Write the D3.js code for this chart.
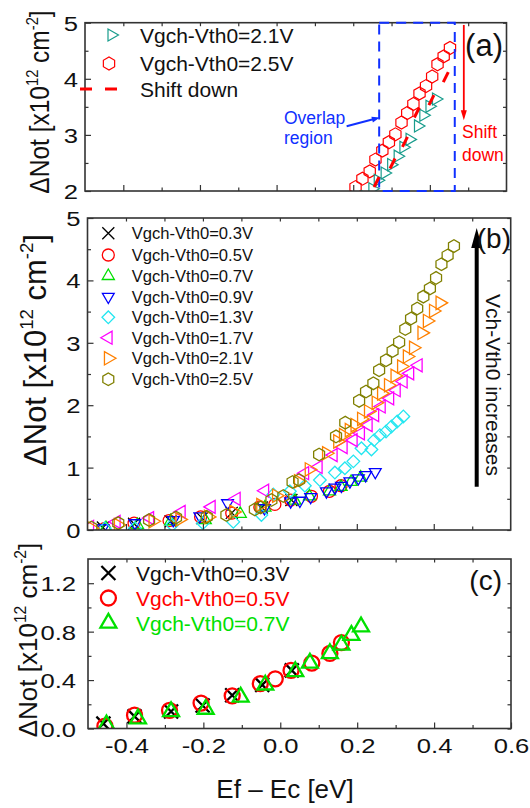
<!DOCTYPE html>
<html><head><meta charset="utf-8">
<script src="https://cdn.jsdelivr.net/npm/d3@7"></script>
<style>
body{margin:0;background:#fff;}
svg text{font-family:"Liberation Sans",Arial,sans-serif;}
</style></head><body>
<svg id="chart" width="530" height="808"></svg>
<script>
// ---------------- DATA ----------------
const xDomain = [-0.5, 0.6];
const xMajor = [-0.4, -0.2, 0.0, 0.2, 0.4];
const xMinor = [-0.3, -0.1, 0.1, 0.3, 0.5];
const xTickLabelsC = ["-0.4", "-0.2", "0.0", "0.2", "0.4", "0.6"];
const xTickValuesC = [-0.4, -0.2, 0.0, 0.2, 0.4, 0.6];

const yMajorA = [2, 3, 4, 5], yMinorA = [2.5, 3.5, 4.5], yLabelsA = ["2", "3", "4", "5"];
const yMajorB = [0, 1, 2, 3, 4, 5], yMinorB = [0.5, 1.5, 2.5, 3.5, 4.5], yLabelsB = ["0", "1", "2", "3", "4", "5"];
const yMajorC = [0, 0.4, 0.8, 1.2], yMinorC = [0.2, 0.6, 1.0], yLabelsC = ["0.0", "0.4", "0.8", "1.2"];

const legendB = ["Vgch-Vth0=0.3V", "Vgch-Vth0=0.5V", "Vgch-Vth0=0.7V", "Vgch-Vth0=0.9V",
                 "Vgch-Vth0=1.3V", "Vgch-Vth0=1.7V", "Vgch-Vth0=2.1V", "Vgch-Vth0=2.5V"];
const legendA = ["Vgch-Vth0=2.1V", "Vgch-Vth0=2.5V", "Shift down"];
const legendC = ["Vgch-Vth0=0.3V", "Vgch-Vth0=0.5V", "Vgch-Vth0=0.7V"];

const x03 = [-0.46, -0.379, -0.284, -0.202, -0.125, -0.047, 0.03];
const y03 = [0.04, 0.10, 0.14, 0.19, 0.275, 0.36, 0.48];
const x05 = [-0.456, -0.379, -0.288, -0.206, -0.125, -0.052, -0.013, 0.028, 0.082, 0.129, 0.159];
const y05 = [0.02, 0.11, 0.15, 0.21, 0.27, 0.37, 0.41, 0.48, 0.54, 0.62, 0.71];
const x07 = [-0.452, -0.37, -0.284, -0.194, -0.103, -0.039, 0.039, 0.077, 0.129, 0.159, 0.185, 0.21];
const y07 = [0.03, 0.08, 0.14, 0.16, 0.26, 0.36, 0.47, 0.54, 0.62, 0.69, 0.77, 0.84];
const x09 = [-0.46, -0.377, -0.277, -0.208, -0.136, -0.04, 0.028, 0.052, 0.08, 0.121, 0.143, 0.16, 0.182, 0.204, 0.223, 0.248];
const y09 = [0.03, 0.11, 0.16, 0.22, 0.43, 0.35, 0.46, 0.47, 0.53, 0.62, 0.68, 0.71, 0.78, 0.83, 0.88, 0.93];
const x13 = [-0.455, -0.377, -0.28, -0.2, -0.121, -0.048, -0.017, 0.026, 0.065, 0.104, 0.143, 0.169, 0.191, 0.212, 0.238, 0.245, 0.26, 0.276, 0.29, 0.305, 0.321];
const y13 = [0.03, 0.03, 0.08, 0.11, 0.13, 0.24, 0.57, 0.62, 0.71, 0.80, 0.92, 0.99, 1.10, 1.31, 1.29, 1.44, 1.52, 1.58, 1.66, 1.74, 1.82];
const x17 = [-0.494, -0.425, -0.338, -0.256, -0.178, -0.113, -0.039, 0.065, 0.1, 0.139, 0.165, 0.191, 0.21, 0.23, 0.247, 0.264, 0.286, 0.303, 0.321, 0.338, 0.36];
const y17 = [0.05, 0.13, 0.19, 0.29, 0.37, 0.50, 0.63, 0.91, 1.01, 1.20, 1.33, 1.44, 1.55, 1.68, 1.84, 1.98, 2.11, 2.24, 2.38, 2.51, 2.64];
const x21 = [-0.49, -0.42, -0.33, -0.26, -0.186, -0.12, -0.05, -0.009, 0.048, 0.076, 0.121, 0.15, 0.165, 0.18, 0.195, 0.212, 0.23, 0.25, 0.264, 0.282, 0.299, 0.316, 0.331, 0.347, 0.369, 0.383, 0.399, 0.416];
const y21 = [0.03, 0.08, 0.14, 0.17, 0.21, 0.29, 0.40, 0.55, 0.78, 0.97, 1.23, 1.42, 1.52, 1.60, 1.68, 1.78, 1.90, 2.04, 2.19, 2.32, 2.47, 2.62, 2.78, 2.92, 3.16, 3.35, 3.51, 3.64];
const x25 = [-0.49, -0.42, -0.34, -0.27, -0.19, -0.139, -0.065, -0.05, -0.022, 0.009, 0.033, 0.05, 0.102, 0.146, 0.17, 0.206, 0.224, 0.243, 0.258, 0.276, 0.293, 0.31, 0.326, 0.341, 0.357, 0.373, 0.39, 0.406, 0.42, 0.436, 0.4525];
const y25 = [0.04, 0.11, 0.16, 0.20, 0.21, 0.24, 0.33, 0.36, 0.48, 0.545, 0.77, 0.80, 1.21, 1.50, 1.72, 2.07, 2.22, 2.35, 2.56, 2.72, 2.87, 3.01, 3.22, 3.39, 3.55, 3.74, 3.87, 4.04, 4.26, 4.40, 4.55];

// annotations in panel (a), data coordinates
const shiftMarksX = [0.4416, 0.404, 0.366, 0.335, 0.3026, 0.261];
const shiftMarksY = [4.03, 3.62, 3.40, 2.875, 2.49, 2.16];
const overlapBoxX = [0.2677, 0.465];
const overlapArrowX = [0.1827, 0.2695], overlapArrowY = [3.155, 3.31];
const shiftArrowX = 0.4886, shiftArrowY = [4.96, 3.26];

// ---------------- STYLE ----------------
const C = {black:"#000000", red:"#ff0000", green:"#00e000", blue:"#0000ff", cyan:"#22e6f0",
           magenta:"#ff00ff", orange:"#ff8000", olive:"#808000", teal:"#189c8c", frame:"#333"};
const svg = d3.select("#chart");
const sans = '"Liberation Sans",Arial,sans-serif';
const serif = '"Liberation Serif","Times New Roman",serif';

function poly(r, angles) {
  return "M" + angles.map(a => {
    const t = a * Math.PI / 180; return [r * Math.cos(t), r * Math.sin(t)].map(v => v.toFixed(2)).join(",");
  }).join("L") + "Z";
}
function markerPath(shape, r) {
  switch (shape) {
    case "x": return `M${-r},${-r}L${r},${r}M${-r},${r}L${r},${-r}`;
    case "circle": return d3.symbol(d3.symbolCircle, Math.PI * r * r)();
    case "up": return poly(r, [-90, 30, 150]);
    case "down": return poly(r, [90, 210, 330]);
    case "left": return poly(r, [180, 300, 60]);
    case "right": return poly(r, [0, 120, 240]);
    case "diamond": return poly(r, [0, 90, 180, 270]);
    case "hex": return poly(r, [30, 90, 150, 210, 270, 330]);
  }
}

let clipId = 0;
function panel(P, yDomain, cfg) {
  const g = svg.append("g");
  const x = d3.scaleLinear().domain(xDomain).range([P.l, P.r]);
  const y = d3.scaleLinear().domain(yDomain).range([P.b, P.t]);
  const id = "clip" + (clipId++);
  svg.append("clipPath").attr("id", id).append("rect")
    .attr("x", P.l).attr("y", P.t).attr("width", P.r - P.l).attr("height", P.b - P.t);
  const data = g.append("g").attr("clip-path", `url(#${id})`);
  // axes
  const ax = g.append("g");
  const fmtX = cfg.xLabels ? (d, i) => cfg.xLabels[i] : () => "";
  const bx = ax.append("g").attr("transform", `translate(0,${P.b})`)
    .call(d3.axisBottom(x).tickValues(cfg.xLabels ? xTickValuesC : xMajor).tickSize(-6).tickPadding(9).tickFormat(fmtX));
  ax.append("g").attr("transform", `translate(0,${P.b})`).call(d3.axisBottom(x).tickValues(xMinor).tickSize(-3.5).tickFormat(""));
  ax.append("g").attr("transform", `translate(0,${P.t})`).call(d3.axisTop(x).tickValues(xMajor.concat(xMinor)).tickSize(-3.5).tickFormat(""));
  const ly = ax.append("g").attr("transform", `translate(${P.l},0)`)
    .call(d3.axisLeft(y).tickValues(cfg.yMajor).tickSize(-6).tickPadding(cfg.yPad).tickFormat((d, i) => cfg.yLabels[i]));
  ax.append("g").attr("transform", `translate(${P.l},0)`).call(d3.axisLeft(y).tickValues(cfg.yMinor).tickSize(-3.5).tickFormat(""));
  ax.append("g").attr("transform", `translate(${P.r},0)`).call(d3.axisRight(y).tickValues(cfg.yMajor.concat(cfg.yMinor)).tickSize(-3.5).tickFormat(""));
  ax.selectAll(".domain").remove();
  ax.selectAll(".tick line").attr("stroke", C.frame).attr("stroke-width", 1.2);
  ax.selectAll("text").attr("font-family", sans).attr("font-size", 21).attr("fill", "#111");
  ly.selectAll("text").attr("x", -cfg.yPad / 1.22).attr("transform", "scale(1.22,1)").attr("dy", "0.36em");
  bx.selectAll("text").attr("transform", "scale(1.22,1)").attr("dy", "0.72em");
  g.append("rect").attr("x", P.l).attr("y", P.t).attr("width", P.r - P.l).attr("height", P.b - P.t)
    .attr("fill", "none").attr("stroke", C.frame).attr("stroke-width", 1.6);
  return {g, x, y, data};
}

function series(layer, x, y, xs, ys, shape, r, color, sw) {
  layer.selectAll(null).data(xs.map((v, i) => [v, ys[i]])).join("path")
    .attr("transform", d => `translate(${x(d[0])},${y(d[1])})`)
    .attr("d", markerPath(shape, r)).attr("fill", "none").attr("stroke", color).attr("stroke-width", sw);
}

function yTitle(x, y, size, sx) {
  const t = svg.append("text").attr("transform", `translate(${x},${y}) scale(${sx},1) rotate(-90)`)
    .attr("text-anchor", "middle").attr("font-size", size).attr("font-family", sans).attr("fill", "#111");
  t.append("tspan").text("ΔNot [x10");
  t.append("tspan").attr("dy", -0.42 * size).attr("font-size", size * 0.6).text("12");
  t.append("tspan").attr("dy", 0.42 * size).text(" cm");
  t.append("tspan").attr("dy", -0.42 * size).attr("font-size", size * 0.6).text("-2");
  t.append("tspan").attr("dy", 0.42 * size).text("]");
}

function arrowHead(g, tipX, tipY, dir, w, len, color) {
  const [ux, uy] = dir, px = -uy, py = ux;
  const bx = tipX - ux * len, by = tipY - uy * len;
  g.append("path").attr("d", `M${tipX},${tipY}L${bx + px * w / 2},${by + py * w / 2}L${bx - px * w / 2},${by - py * w / 2}Z`)
    .attr("fill", color);
}

// ---------------- PANEL (a) ----------------
const A = panel({l: 85, r: 506.5, t: 22.7, b: 191}, [2, 5],
  {yMajor: yMajorA, yMinor: yMinorA, yLabels: yLabelsA, yPad: 7});
series(A.data, A.x, A.y, x25, y25, "hex", 6.5, C.red, 1.2);
series(A.data, A.x, A.y, x21, y21, "right", 7, C.teal, 1.2);
A.g.append("rect").attr("x", A.x(overlapBoxX[0])).attr("y", A.y(5)).attr("width", A.x(overlapBoxX[1]) - A.x(overlapBoxX[0]))
  .attr("height", A.y(2) - A.y(5)).attr("fill", "none").attr("stroke", "#1030ff").attr("stroke-width", 2).attr("stroke-dasharray", "10,7");
shiftMarksX.forEach((v, i) => {
  const cx = A.x(v), cy = A.y(shiftMarksY[i]);
  A.g.append("line").attr("x1", cx + 2.5).attr("y1", cy - 5).attr("x2", cx - 2.5).attr("y2", cy + 5)
    .attr("stroke", C.red).attr("stroke-width", 3);
});
{
  const x1 = A.x(overlapArrowX[0]), y1 = A.y(overlapArrowY[0]), x2 = A.x(overlapArrowX[1]), y2 = A.y(overlapArrowY[1]);
  const L = Math.hypot(x2 - x1, y2 - y1), u = [(x2 - x1) / L, (y2 - y1) / L];
  A.g.append("line").attr("x1", x1).attr("y1", y1).attr("x2", x2 - u[0] * 6).attr("y2", y2 - u[1] * 6).attr("stroke", "#1030ff").attr("stroke-width", 2);
  arrowHead(A.g, x2, y2, u, 6, 8, "#1030ff");
}
A.g.append("text").attr("x", 284).attr("y", 123.5).attr("font-size", 17.5).attr("fill", "#1030ff").text("Overlap");
A.g.append("text").attr("x", 284).attr("y", 143.5).attr("font-size", 17.5).attr("fill", "#1030ff").text("region");
{
  const sx = A.x(shiftArrowX), y1 = A.y(shiftArrowY[0]), y2 = A.y(shiftArrowY[1]);
  A.g.append("line").attr("x1", sx).attr("y1", y1).attr("x2", sx).attr("y2", y2 - 8).attr("stroke", C.red).attr("stroke-width", 1.8);
  arrowHead(A.g, sx, y2, [0, 1], 6, 10, C.red);
}
A.g.append("text").attr("x", 462).attr("y", 137.5).attr("font-size", 17.5).attr("fill", C.red).text("Shift");
A.g.append("text").attr("x", 462).attr("y", 160.5).attr("font-size", 17.5).attr("fill", C.red).text("down");
A.g.append("text").attr("x", 503).attr("y", 56).attr("text-anchor", "end").attr("font-family", serif).attr("font-size", 31).attr("fill", "#111").text("(a)");
A.g.append("path").attr("transform", "translate(111.5,35)").attr("d", markerPath("right", 7)).attr("fill", "none").attr("stroke", C.teal).attr("stroke-width", 1.2);
A.g.append("path").attr("transform", "translate(109,63.5)").attr("d", markerPath("hex", 6.5)).attr("fill", "none").attr("stroke", C.red).attr("stroke-width", 1.2);
A.g.append("line").attr("x1", 80).attr("x2", 121).attr("y1", 89).attr("y2", 89).attr("stroke", C.red).attr("stroke-width", 3).attr("stroke-dasharray", "12,13");
[42.7, 70.7, 96.7].forEach((by, i) => A.g.append("text").attr("x", 140).attr("y", by).attr("font-size", 21).attr("fill", "#111").text(legendA[i]));
yTitle(49, 102, 24.5, 1.1);

// ---------------- PANEL (b) ----------------
const B = panel({l: 87.5, r: 510.7, t: 218, b: 530}, [0, 5],
  {yMajor: yMajorB, yMinor: yMinorB, yLabels: yLabelsB, yPad: 7});
const specB = [
  [x03, y03, "x", 6, C.black], [x05, y05, "circle", 6, C.red], [x07, y07, "up", 7, C.green],
  [x09, y09, "down", 6.8, C.blue], [x13, y13, "diamond", 6.3, C.cyan], [x17, y17, "left", 7.5, C.magenta],
  [x21, y21, "right", 7.7, C.orange], [x25, y25, "hex", 6.3, C.olive]];
specB.forEach(s => series(B.data, B.x, B.y, s[0], s[1], s[2], s[3], s[4], 1.3));
const legRowsB = [233.3, 255, 276, 296.7, 317.3, 337.7, 358.3, 379.3];
specB.forEach((s, i) => {
  B.g.append("path").attr("transform", `translate(108.3,${legRowsB[i]})`).attr("d", markerPath(s[2], s[3]))
    .attr("fill", "none").attr("stroke", s[4]).attr("stroke-width", 1.3);
  B.g.append("text").attr("x", 131.7).attr("y", legRowsB[i] + 6).attr("font-size", 16.6).attr("fill", "#111").text(legendB[i]);
});
B.g.append("line").attr("x1", 476.7).attr("x2", 476.7).attr("y1", 486.7).attr("y2", 245).attr("stroke", "#000").attr("stroke-width", 4);
arrowHead(B.g, 476.7, 228, [0, -1], 11, 20, "#000");
B.g.append("text").attr("transform", "translate(486,385) rotate(90)").attr("text-anchor", "middle").attr("font-size", 21).attr("fill", "#111").text("Vch-Vth0 increases");
B.g.append("text").attr("x", 511).attr("y", 248).attr("text-anchor", "end").attr("font-family", serif).attr("font-size", 28).attr("fill", "#111").text("(b)");
yTitle(46, 350, 31, 1.0);

// ---------------- PANEL (c) ----------------
const Cc = panel({l: 88, r: 511, t: 559, b: 728.5}, [0, 1.4],
  {yMajor: yMajorC, yMinor: yMinorC, yLabels: yLabelsC, yPad: 12, xLabels: xTickLabelsC});
const specC = [[x03, y03, "x", 7, C.black], [x05, y05, "circle", 7.5, C.red], [x07, y07, "up", 9.2, C.green]];
specC.forEach(s => series(Cc.data, Cc.x, Cc.y, s[0], s[1], s[2], s[3], s[4], 2.3));
const legRowsC = [573, 598, 623];
const legColC = [C.black, C.red, C.green];
specC.forEach((s, i) => {
  Cc.g.append("path").attr("transform", `translate(108.4,${legRowsC[i]})`).attr("d", markerPath(s[2], s[3]))
    .attr("fill", "none").attr("stroke", s[4]).attr("stroke-width", 2.3);
  Cc.g.append("text").attr("x", 136).attr("y", legRowsC[i] + 7.5).attr("font-size", 21).attr("fill", i === 0 ? "#111" : legColC[i]).text(legendC[i]);
});
Cc.g.append("text").attr("x", 502).attr("y", 590).attr("text-anchor", "end").attr("font-family", serif).attr("font-size", 28).attr("fill", "#111").text("(c)");
yTitle(37, 640, 26, 1.0);

svg.append("text").attr("x", 285).attr("y", 798).attr("text-anchor", "middle").attr("font-size", 26).attr("font-family", sans).attr("fill", "#111").text("Ef – Ec [eV]");
</script>
</body></html>
